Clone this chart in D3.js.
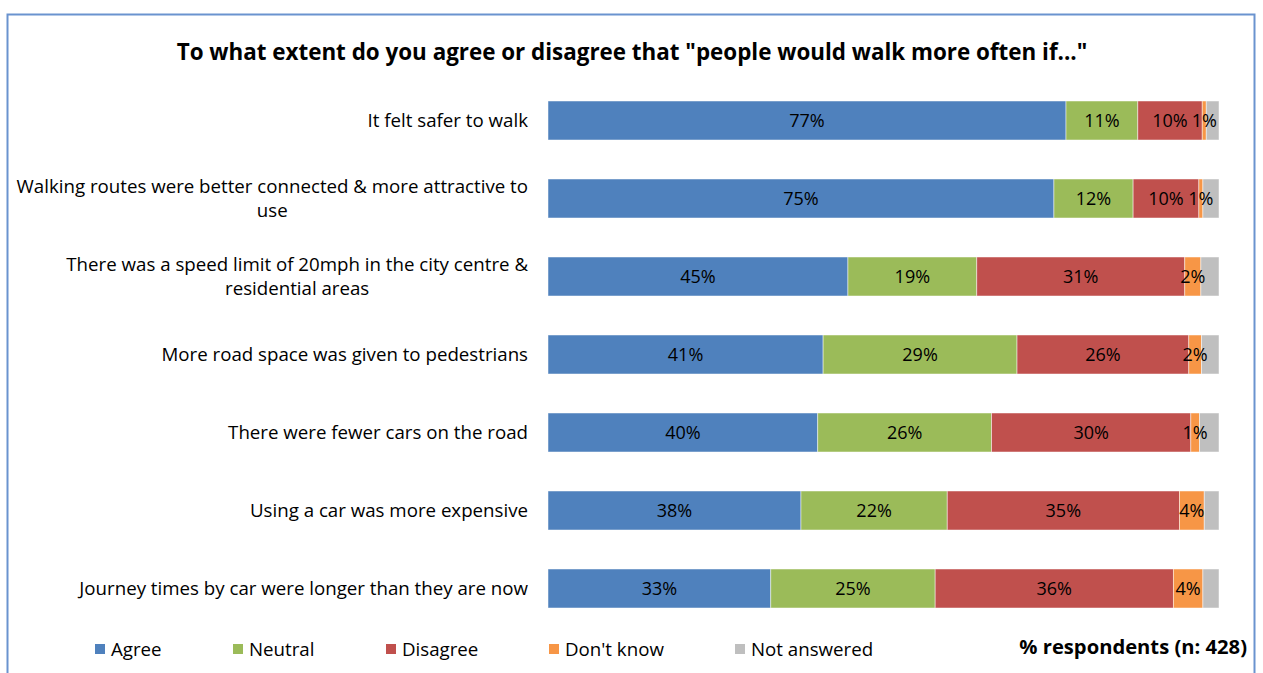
<!DOCTYPE html>
<html>
<head>
<meta charset="utf-8">
<script src="https://cdn.jsdelivr.net/npm/d3@7/dist/d3.min.js"></script>
<style>
  html, body { margin: 0; padding: 0; background: #fff; }
  svg { display: block; }
  text { font-family: "Open Sans", Lato, sans-serif; fill: #000; }
</style>
</head>
<body>
<svg id="chart" width="1263" height="673"></svg>
<script>
// Survey statements (top to bottom)
const categories = [
  "It felt safer to walk",
  "Walking routes were better connected & more attractive to use",
  "There was a speed limit of 20mph in the city centre & residential areas",
  "More road space was given to pedestrians",
  "There were fewer cars on the road",
  "Using a car was more expensive",
  "Journey times by car were longer than they are now"
];

// Label lines for the wrapped statements
const categoryLines = [
  ["It felt safer to walk"],
  ["Walking routes were better connected & more attractive to", "use"],
  ["There was a speed limit of 20mph in the city centre &", "residential areas"],
  ["More road space was given to pedestrians"],
  ["There were fewer cars on the road"],
  ["Using a car was more expensive"],
  ["Journey times by car were longer than they are now"]
];

// Response shares (% respondents)
const agree       = [77.2, 75.4, 44.7, 41.0, 40.2, 37.7, 33.2];
const neutral     = [10.7, 11.8, 19.2, 28.9, 25.9, 21.8, 24.5];
const disagree    = [ 9.6,  9.8, 31.0, 25.6, 29.7, 34.6, 35.5];
const dontKnow    = [ 0.6,  0.6,  2.4,  1.9,  1.3,  3.7,  4.4];
const notAnswered = [ 1.9,  2.4,  2.7,  2.6,  2.9,  2.2,  2.4];

const seriesNames = ["Agree", "Neutral", "Disagree", "Don't know", "Not answered"];
const seriesColors = ["#4F81BD", "#9BBB59", "#C0504D", "#F79646", "#BFBFBF"];
const seriesValues = [agree, neutral, disagree, dontKnow, notAnswered];
const labelledSeries = [true, true, true, true, false];

const titleText = "To what extent do you agree or disagree that \"people would walk more often if...\"";
const axisNote = "% respondents (n: 428)";

const svg = d3.select("#chart");

// Outer frame
svg.append("rect")
  .attr("x", 7.5).attr("y", 14.5)
  .attr("width", 1247).attr("height", 680)
  .attr("fill", "none")
  .attr("stroke", "#6A93CF")
  .attr("stroke-width", 2);

// Title
svg.append("text")
  .attr("x", 632).attr("y", 52)
  .attr("dy", "0.36em")
  .attr("text-anchor", "middle")
  .attr("font-size", 22.4)
  .attr("font-weight", "bold")
  .text(titleText);

// Scales
const x = d3.scaleLinear().domain([0, 100]).range([548, 1219]);
const y = d3.scaleBand().domain(categories).range([81.5, 627.5])
  .paddingInner(0.5).paddingOuter(0.25);

// Stack rows
const rows = categories.map((c, i) => {
  const r = { category: c };
  seriesNames.forEach((s, k) => { r[s] = seriesValues[k][i]; });
  return r;
});
const stacked = d3.stack().keys(seriesNames)(rows);

const layers = svg.append("g").selectAll("g")
  .data(stacked)
  .join("g")
  .attr("fill", (d, k) => seriesColors[k]);

layers.selectAll("rect")
  .data(d => d)
  .join("rect")
  .attr("x", d => x(d[0]))
  .attr("y", d => y(d.data.category))
  .attr("width", d => x(d[1]) - x(d[0]))
  .attr("height", y.bandwidth())
  .attr("stroke", "#ffffff")
  .attr("stroke-opacity", 0.6)
  .attr("stroke-width", 0.8);

// Segment value labels
const labelGroup = svg.append("g");
stacked.forEach((layer, k) => {
  if (!labelledSeries[k]) return;
  labelGroup.selectAll(null)
    .data(layer)
    .join("text")
    .attr("x", d => (x(d[0]) + x(d[1])) / 2)
    .attr("y", d => y(d.data.category) + y.bandwidth() / 2)
    .attr("dy", "0.36em")
    .attr("text-anchor", "middle")
    .attr("font-size", 18)
    .text(d => Math.round(d[1] - d[0]) + "%");
});

// Category axis labels
const catSize = 18.7;
const yAxis = svg.append("g");
categories.forEach((c, i) => {
  const lines = categoryLines[i];
  const cy = y(c) + y.bandwidth() / 2;
  const lh = 24;
  const t = yAxis.append("text")
    .attr("font-size", catSize)
    .attr("text-anchor", lines.length > 1 ? "middle" : "end");
  if (lines.length === 1) {
    t.attr("x", 528).attr("y", cy).attr("dy", "0.36em").text(lines[0]);
  } else {
    // measure the widest line to centre wrapped lines under it
    const probe = yAxis.append("text").attr("font-size", catSize).text(lines[0]);
    const w = probe.node().getComputedTextLength();
    probe.remove();
    const cx = 528 - w / 2;
    lines.forEach((ln, j) => {
      t.append("tspan")
        .attr("x", cx)
        .attr("y", cy + (j - (lines.length - 1) / 2) * lh)
        .attr("dy", "0.36em")
        .text(ln);
    });
  }
});

// Legend
const legendX = [95, 233, 386, 549, 735];
const legend = svg.append("g");
seriesNames.forEach((s, k) => {
  legend.append("rect")
    .attr("x", legendX[k]).attr("y", 644)
    .attr("width", 10).attr("height", 10)
    .attr("fill", seriesColors[k]);
  legend.append("text")
    .attr("x", legendX[k] + 16).attr("y", 649)
    .attr("dy", "0.36em")
    .attr("font-size", catSize)
    .text(s);
});

// Axis note
svg.append("text")
  .attr("x", 1247).attr("y", 647)
  .attr("dy", "0.36em")
  .attr("text-anchor", "end")
  .attr("font-size", 20.2)
  .attr("font-weight", "bold")
  .text(axisNote);
</script>
</body>
</html>
